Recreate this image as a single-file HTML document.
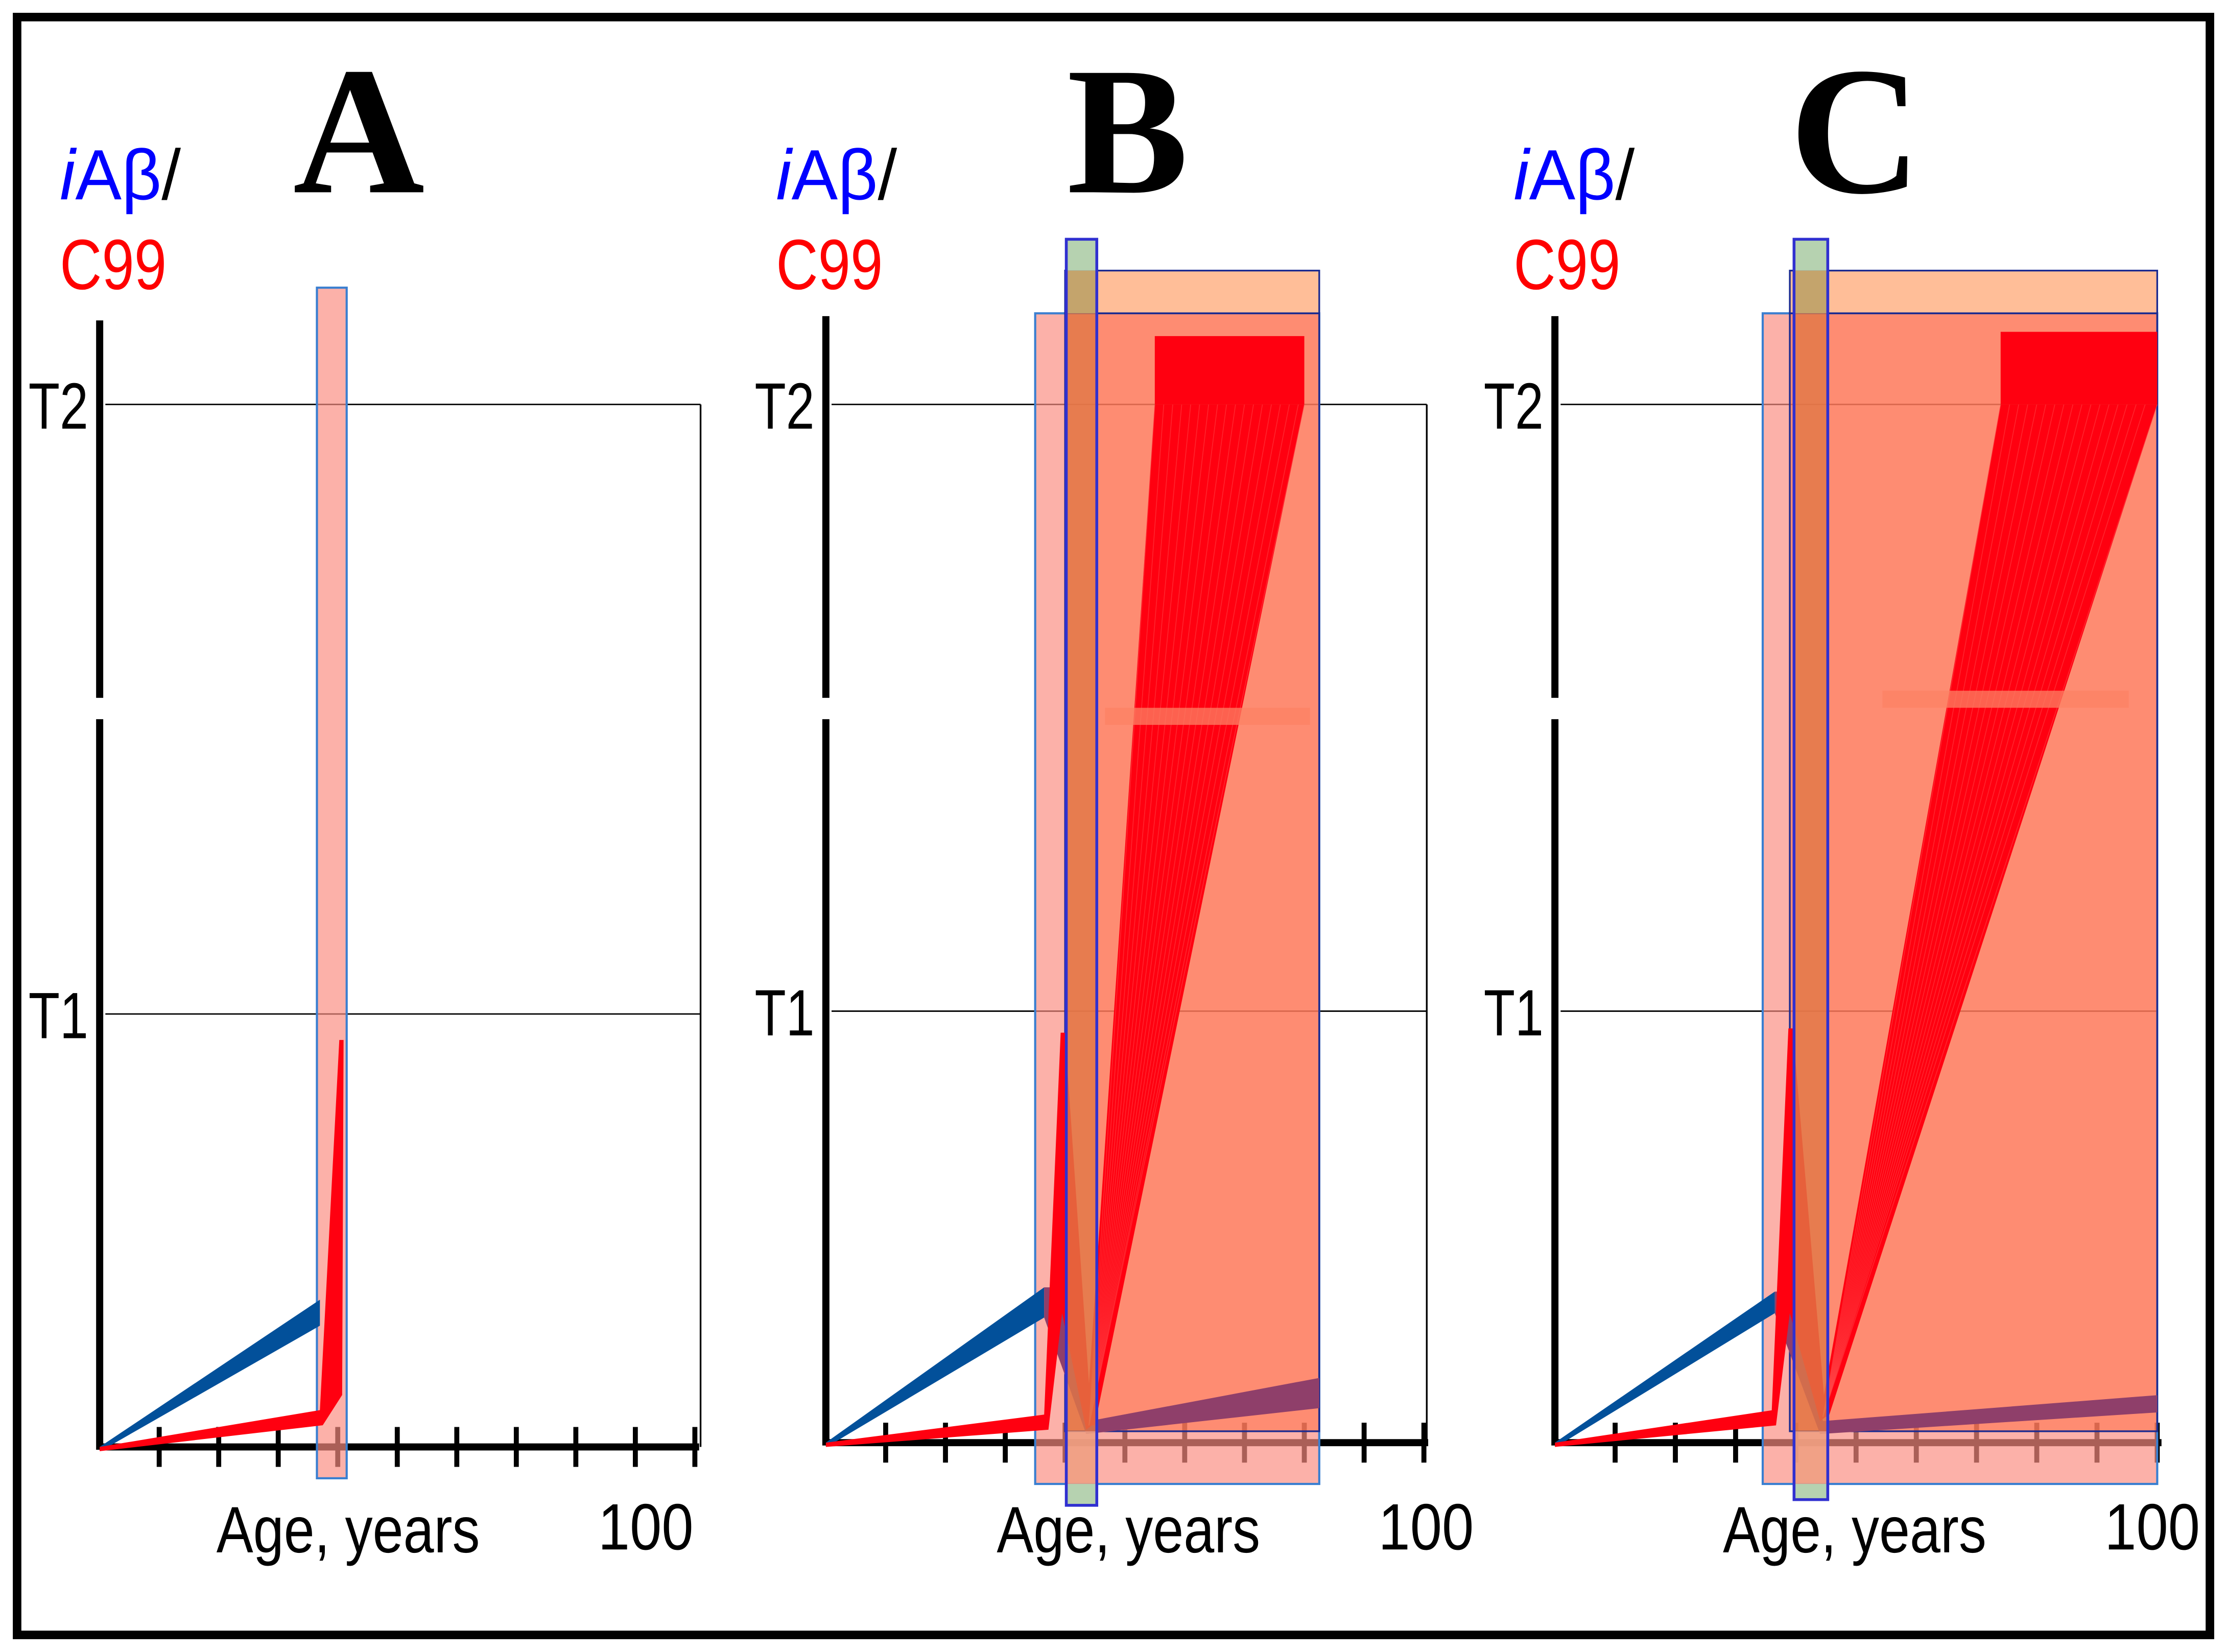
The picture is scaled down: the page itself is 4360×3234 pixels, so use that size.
<!DOCTYPE html>
<html><head><meta charset="utf-8"><style>
html,body{margin:0;padding:0;background:#fff}
svg{display:block}
text{font-family:"Liberation Sans",sans-serif}
</style></head><body>
<svg id="fig" width="4360" height="3234" viewBox="0 0 1564 1160" preserveAspectRatio="none">
<rect x="12" y="12" width="1540" height="1136" fill="#fff" stroke="#000" stroke-width="6"/>
</svg>
<script>
// ---- data ----
const panelNames = ["A","B","C"];
const ageTicks = [10,20,30,40,50,60,70,80,90,100];
const thresholdLabels = ["T1","T2"];
const thresholdValues = [1,2];
// blue iAβ wedge end [age, low, high]
const blueEnd = [[37,0.28,0.34],[36.5,0.29,0.36],[36.5,0.30,0.35]];
// red C99 baseline end [age, value]
const redBase = [[37,0.07],[36.5,0.05],[36,0.06]];
// red spike peak [age, value]
const redPeak = [[40.5,0.94],[39.5,0.95],[39,0.96]];
// red trough after spike [age, value] (B,C only)
const redTrough = [null,[44,0.04],[44.5,0.06]];
// fan end ages at T2
const fanEndsB = [55,56.5,58,59.5,61,62.5,64,65.5,67,68.5,70,71.5,73,74.5,76,77.5,79,80];
const fanEndsC = [74,75.5,77,78.5,80,81.5,83,84.5,86,87.5,89,90.5,92,93.5,95,96.5,98,100];
// purple band end values at right [lo, hi]
const purpleEnd = [null,[0.08,0.15],[0.07,0.11]];
// highlighted windows [startAge, endAge]
const pinkWin = [[36.5,41.5],[35,82.5],[34.5,100]];
const orangeWin = [null,[40,82.5],[39,100]];
const greenWin = [null,[40.2,45.3],[39.7,45.3]];

// ---- layout ----
const P = [
 {x0:70,x1:488,y0:1016,t1:712,t2:284,top:225,right:492,lx:42,big:252,ax:152,hx:420},
 {x0:580,x1:1000,y0:1013,t1:710,t2:284,top:222,right:1002,lx:545,big:792,ax:700,hx:968},
 {x0:1092,x1:1515,y0:1013,t1:710,t2:284,top:222,right:1515,lx:1063,big:1303,ax:1210,hx:1478}
];
const svg=document.getElementById('fig');
const NS="http://www.w3.org/2000/svg";
function mk(tag,attrs,parent){const e=document.createElementNS(NS,tag);for(const k in attrs)e.setAttribute(k,attrs[k]);(parent||svg).appendChild(e);return e;}

P.forEach((p,i)=>{
 const xs=a=>p.x0+(p.x1-p.x0)*a/100;
 const ys=v=>v<=1?p.y0-(p.y0-p.t1)*v:p.t1-(p.t1-p.t2)*(v-1);
 const g=mk('g',{});
 
 
 thresholdValues.forEach((v,k)=>{
  const l=mk('line',{x1:p.x0+4,x2:p.right,y1:ys(v),y2:ys(v),stroke:'#000','stroke-width':1},g);
  
  
  const t=mk('text',{x:p.x0-50,y:ys(v)+17,'font-size':46,fill:'#000',textLength:42,lengthAdjust:'spacingAndGlyphs'},g);t.textContent=thresholdLabels[k];
  
  
 });
 const rl=mk('line',{x1:p.right,x2:p.right,y1:p.t2,y2:p.y0,stroke:'#000','stroke-width':1.2},g);
 
 
 // axes (under windows)
 const ya=mk('path',{d:`M${p.x0} ${p.top}V490M${p.x0} 505V${p.y0+2}`,stroke:'#000','stroke-width':5,fill:'none'},g);
 
 
 const xa=mk('line',{x1:p.x0,x2:p.x1+3,y1:p.y0,y2:p.y0,stroke:'#000','stroke-width':5},g);
 
 
 ageTicks.forEach(a=>{
  const t=mk('line',{x1:xs(a),x2:xs(a),y1:p.y0-14,y2:p.y0+14,stroke:'#000','stroke-width':3.5},g);
  
  
 });
 // windows (semi-transparent)
 const pw=pinkWin[i];
 const pr=mk('rect',{x:xs(pw[0]),y:i==0?202:220,width:xs(pw[1])-xs(pw[0]),height:(i==0?1038:1042)-(i==0?202:220),fill:'rgba(250,140,128,0.68)',stroke:'#3a7fd0','stroke-width':1.5},g);
 
 
 if(orangeWin[i]){const o=orangeWin[i];
  const r1=mk('rect',{x:xs(o[0]),y:190,width:xs(o[1])-xs(o[0]),height:30,fill:'#ffbe98',stroke:'#1a2a90','stroke-width':1.2},g);
  
  
  const r2=mk('rect',{x:xs(o[0]),y:220,width:xs(o[1])-xs(o[0]),height:785,fill:'rgba(255,110,70,0.55)',stroke:'#1a2a90','stroke-width':1.2},g);
  
  
 }
 // blue wedge
 const b=blueEnd[i];
 const bw=mk('polygon',{points:`${p.x0},${p.y0} ${xs(b[0])},${ys(b[2])} ${xs(b[0])},${ys(b[1])} ${p.x0+4},${p.y0+1}`,fill:'#02509a'},g);
 
 
 const rb=redBase[i],pk=redPeak[i],tr=redTrough[i];
 // purple band
 if(purpleEnd[i]){const pe=purpleEnd[i];
  const pp=mk('polygon',{points:`${xs(b[0])},${ys(b[2])} ${xs(pk[0])},${ys(b[2])} ${xs(tr[0])},${ys(0.05)} ${xs(pw[1])},${ys(pe[1])} ${xs(pw[1])},${ys(pe[0])} ${xs(tr[0])-2},${ys(0.02)} ${xs(b[0])},${ys(b[1])}`,fill:'#8f3f6a'},g);
  
  
 }
 // red baseline + spike
 let pts=`${p.x0},${p.y0} ${xs(rb[0])},${ys(rb[1]+0.015)} ${xs(pk[0])-1},${ys(pk[1])} ${xs(pk[0])+2},${ys(pk[1])} `;
 if(tr) pts+=`${xs(tr[0])+2},${ys(tr[1])} ${xs(tr[0])-2},${ys(tr[1]-0.01)} ${xs(pk[0])},${ys(0.3)} ${xs(rb[0])+3},${ys(rb[1]-0.02)} `;
 else pts+=`${xs(pk[0])+1},${ys(rb[1]+0.05)} ${xs(rb[0])+2},${ys(rb[1]-0.02)} `;
 pts+=`${p.x0},${p.y0+3}`;
 const rs=mk('polygon',{points:pts,fill:'#ff0010'},g);
 
 
 // fan
 const fan=i==1?fanEndsB:i==2?fanEndsC:null;
 if(fan){
  const sx=xs(tr[0]),sy=ys(tr[1]);
  const fp=mk('polygon',{points:`${sx-2},${sy} ${xs(fan[0])},${ys(2)} ${xs(fan[fan.length-1])},${ys(2)} ${sx+4},${sy}`,fill:'#ff0010'},g);
  
  
  fan.forEach(a=>{
   const l=mk('line',{x1:sx,y1:sy,x2:xs(a),y2:ys(2),stroke:'#ff5050','stroke-width':0.6,opacity:0.45},g);
   
   
  });
  const blk=mk('rect',{x:xs(fan[0]),y:i==1?236:233,width:xs(fan[fan.length-1])-xs(fan[0]),height:ys(2)-(i==1?236:233),fill:'#ff0010'},g);
  
  
  const bar=mk('rect',{x:i==1?776:1322,y:i==1?497:485,width:i==1?144:173,height:12,fill:'rgba(252,130,100,0.75)'},g);
  
  
 }
 // green window
 if(greenWin[i]){const gw=greenWin[i];
  const gx=xs(gw[0]),gwid=xs(gw[1])-xs(gw[0]),gh=i==1?889:885;
  [[168,190,'#b6d2b0'],[190,220,'#c4a46c'],[220,1005,'rgba(225,120,70,0.8)'],[1005,1042,'rgba(240,160,130,0.9)'],[1042,168+gh,'#b6d2b0']].forEach(s=>{
   const r=mk('rect',{x:gx,y:s[0],width:gwid,height:s[1]-s[0],fill:s[2]},g);
   
   
  });
  const gb=mk('rect',{x:gx,y:168,width:gwid,height:gh,fill:'none',stroke:'#3030d0','stroke-width':2},g);
  
  
 }
 // labels
 const t1=mk('text',{x:p.lx,y:140,'font-size':50,fill:'#0000ff',textLength:85,lengthAdjust:'spacingAndGlyphs'},g);
 t1.innerHTML='<tspan font-style="italic">i</tspan>Aβ<tspan fill="#000">/</tspan>';
 
 
 const t2=mk('text',{x:p.lx,y:203,'font-size':50,fill:'#ff0000',textLength:75,lengthAdjust:'spacingAndGlyphs'},g);t2.textContent='C99';
 
 
 const bl=mk('text',{x:p.big,y:135,'font-size':128,'font-weight':'bold','text-anchor':'middle',style:'font-family:"Liberation Serif",serif'},g);bl.textContent=panelNames[i];
 
 
 const xl=mk('text',{x:p.ax,y:1090,'font-size':46,textLength:185,lengthAdjust:'spacingAndGlyphs'},g);xl.textContent='Age, years';
 
 
 const hl=mk('text',{x:p.hx,y:1088,'font-size':46,textLength:67,lengthAdjust:'spacingAndGlyphs'},g);hl.textContent='100';
 
 
});
</script>
</body></html>
